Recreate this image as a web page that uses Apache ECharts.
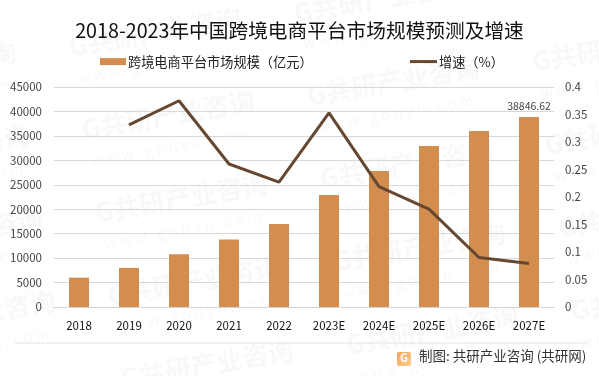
<!DOCTYPE html>
<html>
<head>
<meta charset="utf-8">
<style>
html, body { margin: 0; padding: 0; background: #fff; }
#chart { width: 599px; height: 376px; }
</style>
<script src="https://cdn.jsdelivr.net/npm/echarts@6/dist/echarts.min.js"></script>
</head>
<body>
<div id="chart"></div>
<script>
const categories = ['2018', '2019', '2020', '2021', '2022', '2023E', '2024E', '2025E', '2026E', '2027E'];
const scaleValues = [6000, 8000, 10800, 13800, 17000, 22900, 27800, 32930, 36000, 38846.62];
const growthValues = [null, 0.331, 0.375, 0.26, 0.227, 0.353, 0.219, 0.178, 0.09, 0.079];
const scaleName = '跨境电商平台市场规模（亿元）';
const growthName = '增速（%）';
const titleText = '2018-2023年中国跨境电商平台市场规模预测及增速';
const sourceText = '制图: 共研产业咨询 (共研网)';
const markPositions = [[54, -49], [292, 0], [530, 49], [67, 34], [305, 83], [543, 132], [-171, -15], [80, 117], [318, 166], [556, 215], [-158, 68], [93, 200], [331, 249], [569, 298], [-145, 151], [106, 283], [344, 332], [-132, 234], [119, 366], [-119, 317]];

const font = '"Noto Sans CJK SC", "Noto Sans", sans-serif';
const myChart = echarts.init(document.getElementById('chart'), null, { renderer: 'canvas' });

// 水印
const marks = [];
markPositions.forEach(p => {
    marks.push({
        type: 'text', x: p[0], y: p[1], rotation: 0.17, silent: true, z: 0,
        style: { text: 'G共研产业咨询', fill: 'rgba(120,120,120,0.055)', font: 'bold 26px ' + font }
    });
    marks.push({
        type: 'text', x: p[0] + 10, y: p[1] + 36, rotation: 0.17, silent: true, z: 0,
        style: { text: 'w w w . g o n y n . c o m', fill: 'rgba(120,120,120,0.05)', font: '15px ' + font }
    });
});

myChart.setOption({
    animation: false,
    backgroundColor: '#fff',
    textStyle: { fontFamily: font },
    title: {
        text: titleText,
        left: 'center',
        top: 16,
        textStyle: { color: '#111', fontSize: 19.7, fontWeight: 'normal', fontFamily: font }
    },
    legend: [
        {
            top: 55,
            left: 100,
            padding: 0,
            itemWidth: 26,
            itemHeight: 7,
            textStyle: { color: '#222', fontSize: 13.2, padding: [0, 0, 0, -3] },
            data: [{ name: scaleName, icon: 'rect' }]
        },
        {
            top: 55,
            left: 410,
            padding: 0,
            itemWidth: 27,
            itemHeight: 3,
            textStyle: { color: '#222', fontSize: 13.2, padding: [0, 0, 0, -3] },
            data: [{ name: growthName, icon: 'rect', itemStyle: { color: '#664730' } }]
        }
    ],
    grid: { left: 54, right: 45, top: 87, bottom: 69 },
    xAxis: {
        type: 'category',
        data: categories,
        axisLine: { lineStyle: { color: '#d4d4d4' } },
        axisTick: { show: false },
        axisLabel: { color: '#111', fontSize: 11.5, margin: 13, interval: 0 }
    },
    yAxis: [
        {
            type: 'value', min: 0, max: 45000, interval: 5000,
            axisLine: { show: false }, axisTick: { show: false },
            axisLabel: { color: '#444', fontSize: 11.5, margin: 12, formatter: v => String(v) },
            splitLine: { lineStyle: { color: '#d8d8d8' } }
        },
        {
            type: 'value', min: 0, max: 0.4, interval: 0.05,
            axisLine: { show: false }, axisTick: { show: false },
            axisLabel: { color: '#444', fontSize: 11.5, margin: 11 },
            splitLine: { show: false }
        }
    ],
    series: [
        {
            name: scaleName,
            type: 'bar',
            barWidth: 20,
            itemStyle: { color: '#d38d4f' },
            data: scaleValues.map((v, i) => i === scaleValues.length - 1
                ? { value: v, label: { show: true, position: 'top', color: '#444', fontSize: 10.5, distance: 6 } }
                : v)
        },
        {
            name: growthName,
            type: 'line',
            yAxisIndex: 1,
            symbol: 'none',
            connectNulls: false,
            lineStyle: { color: '#664730', width: 3 },
            itemStyle: { color: '#664730' },
            data: growthValues
        }
    ],
    graphic: marks.concat([
        { type: 'line', silent: true, shape: { x1: 15, y1: 343, x2: 587, y2: 343 }, style: { stroke: '#e4e4e4', lineWidth: 1 } },
        {
            type: 'rect', silent: true, shape: { x: 397, y: 352, width: 14, height: 14, r: 2 }, z: 5,
            style: { fill: new echarts.graphic.LinearGradient(0, 0, 1, 1, [{ offset: 0, color: '#f9a15a' }, { offset: 1, color: '#fbd08f' }]) }
        },
        { type: 'text', silent: true, x: 400, y: 352, z: 6, style: { text: 'G', fill: '#fff', font: 'bold 11px ' + font } },
        { type: 'text', silent: true, x: 419, y: 349, z: 6, style: { text: sourceText, fill: '#333', font: '13.5px ' + font } }
    ])
});
</script>
</body>
</html>
